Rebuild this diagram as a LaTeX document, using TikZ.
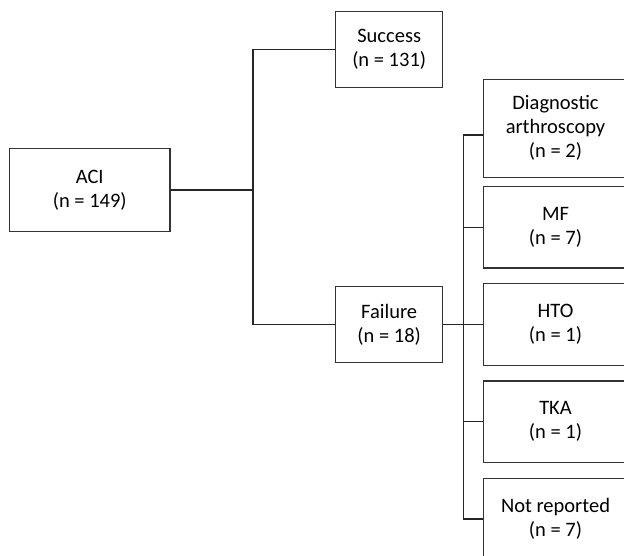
\documentclass[tikz,border=0pt]{standalone}
\usepackage{fontspec}
\setmainfont{Carlito}
\begin{document}
\begin{tikzpicture}[x=1pt,y=-1pt,
  box/.style={draw=black!80,line width=1.2pt,align=center,inner sep=0pt,
    font=\fontsize{20.5}{24}\selectfont},
  rbox/.style={box,draw=none,minimum width=143pt},
  boxline/.style={draw=black!80,line width=1.2pt},
  link/.style={draw=black!85,line width=1.2pt}]
\useasboundingbox (0,0) rectangle (624,555);
% left column
\node[box,minimum width=160.5pt,minimum height=83pt] (aci) at (89.75,190) {ACI\\(n = 149)};
% middle column
\node[box,minimum width=107pt,minimum height=76.4pt] (succ) at (389.2,49.5) {Success\\(n = 131)};
\node[box,minimum width=107pt,minimum height=76pt] (fail) at (389.2,324.5) {Failure\\(n = 18)};
% right column (boxes run past the right edge of the picture)
\node[rbox,minimum height=96.7pt] (diag) at (555.5,128.3) {Diagnostic\\arthroscopy\\(n = 2)};
\node[rbox,minimum height=80pt] (mf) at (555.5,227.3) {MF\\(n = 7)};
\node[rbox,minimum height=80.7pt] (hto) at (555.5,324.5) {HTO\\(n = 1)};
\node[rbox,minimum height=80pt] (tka) at (555.5,421.5) {TKA\\(n = 1)};
\node[rbox,minimum height=80pt] (nr) at (555.5,519) {Not reported\\(n = 7)};
\foreach \n in {diag,mf,hto,tka,nr}
  \draw[boxline] ([xshift=10pt]\n.north east) -- (\n.north west)
    -- (\n.south west) -- ([xshift=10pt]\n.south east);
% junctions
\coordinate (j1) at (253,190);
\coordinate (j2) at (463.3,324.5);
% connectors
\draw[link] (aci.east) -- (j1);
\draw[link] (succ.west) -| (j1) |- (fail.west);
\draw[link] (fail.east) -- (hto.west);
\draw[link] ([yshift=-6.7pt]diag.west) -| (j2) |- (nr.west);
\draw[link] (mf.west) -| (j2);
\draw[link] (tka.west) -| (j2);
\end{tikzpicture}
\end{document}
